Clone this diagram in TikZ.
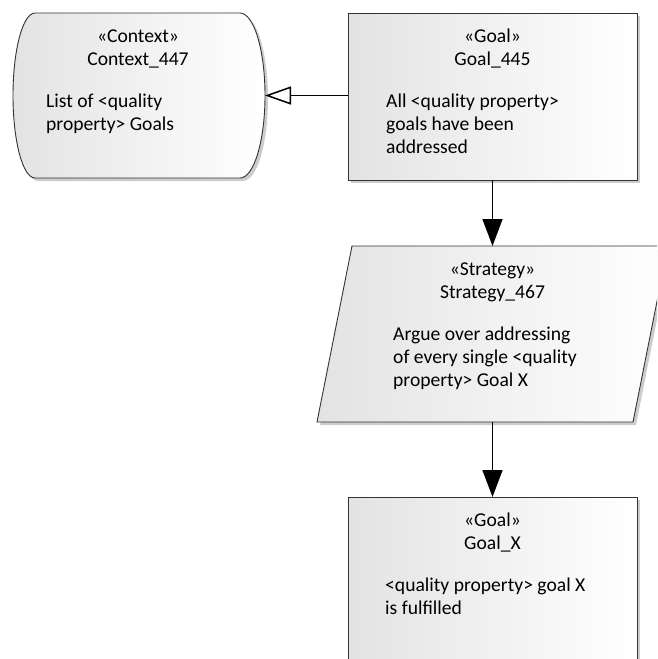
\documentclass[tikz,border=0pt]{standalone}
\usepackage{fontspec}
\setmainfont{Carlito}
\usetikzlibrary{arrows.meta,calc,shadows}
% stacked lines; the first baseline is the node's base
\newcommand{\leftlines}[1]{\begin{tabular}[t]{@{}l@{}}#1\end{tabular}}
\newcommand{\midlines}[1]{\begin{tabular}[t]{@{}c@{}}#1\end{tabular}}
\begin{document}
\begin{tikzpicture}[x=1pt,y=-1pt,
  every node/.style={font=\fontsize{19.6}{23}\selectfont, text=black},
  holder/.style={draw=none, inner sep=0pt, outer sep=0pt, rectangle},
  elem/.style={draw=black!80, line width=0.9pt, left color=black!11, middle color=black!2, right color=white,
    drop shadow={shadow xshift=3pt, shadow yshift=-3pt, fill=black!20, opacity=1}},
  goalbox/.style={holder, elem, minimum width=289pt},
  ttl/.style={anchor=base, inner sep=0pt},
  bdy/.style={anchor=base west, inner sep=0pt},
  conn/.style={draw=black, line width=1.5pt},
  solved/.style={conn, -{Triangle[length=27pt, width=20pt]}},
  incontext/.style={conn, -{Triangle[open, length=26pt, width=18pt, fill=white]}}
]
\useasboundingbox (0,0) rectangle (657,659);
\clip (0,0) rectangle (657,659);

% element frames (anchors for the connectors)
\node[holder, minimum width=252pt, minimum height=165pt] (ctx) at (139,95.5) {};
\node[goalbox, minimum height=167pt] (g1) at (492.5,96.5) {};
\node[holder, minimum width=351pt, minimum height=176pt] (st) at (492.5,334) {};
\node[goalbox, minimum height=183pt] (gx) at (492.5,588.5) {};

% context: box with bowed sides
\path[elem] (35,13) -- (240,13)
  .. controls (253.8,13) and (265,49.9) .. (265,95.5)
  .. controls (265,141.1) and (253.8,178) .. (240,178)
  -- (35,178)
  .. controls (22.8,178) and (13,141.1) .. (13,95.5)
  .. controls (13,49.9) and (22.8,13) .. (35,13) -- cycle;

% strategy: parallelogram
\path[elem] ($(st.north west)+(35,0)$) -- (st.north east)
  -- ($(st.south east)-(35,0)$) -- (st.south west) -- cycle;

% texts
\node[ttl] (ctxT) at (138,42) {\midlines{«Context»\\Context\_447}};
\node[bdy] (ctxB) at (46,107) {\leftlines{List of <quality\\property> Goals}};

\node[ttl] (g1T) at (492.5,42) {\midlines{«Goal»\\Goal\_445}};
\node[bdy] (g1B) at (386,107) {\leftlines{All <quality property>\\goals have been\\addressed}};

\node[ttl] (stT) at (492.5,275) {\midlines{«Strategy»\\Strategy\_467}};
\node[bdy] (stB) at (393,340) {\leftlines{Argue over addressing\\of every single <quality\\property> Goal X}};

\node[ttl] (gxT) at (492.5,526) {\midlines{«Goal»\\Goal\_X}};
\node[bdy] (gxB) at (385,591) {\leftlines{<quality property> goal X\\is fulfilled}};

% connectors
\draw[incontext] (ctx.east -| g1.west) -- (ctx.east);
\draw[solved] (g1.south) -- (st.north);
\draw[solved] (st.south) -- (gx.north);
\end{tikzpicture}
\end{document}
